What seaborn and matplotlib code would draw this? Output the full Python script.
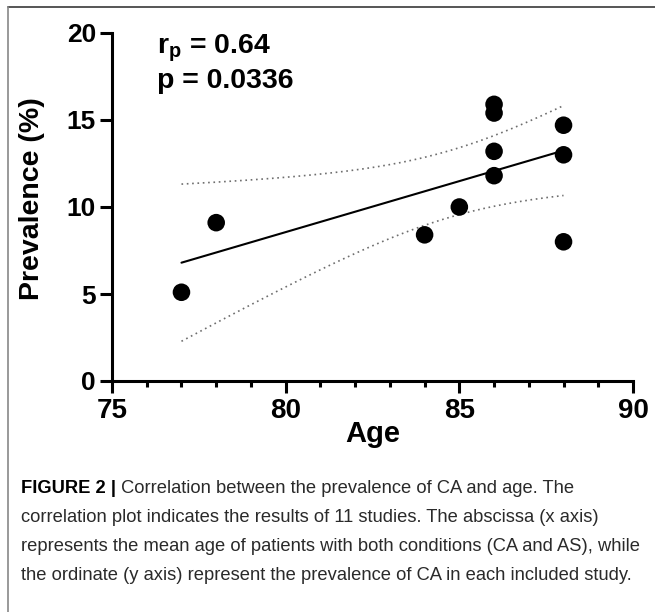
import numpy as np
import matplotlib
matplotlib.use("Agg")
import matplotlib.pyplot as plt
from matplotlib.ticker import MultipleLocator
from matplotlib.lines import Line2D
import seaborn as sns

# ---- data ----
age = [77, 78, 84, 85, 86, 86, 86, 86, 88, 88, 88]
prevalence = [5.1, 9.1, 8.4, 10.0, 15.9, 15.4, 13.2, 11.8, 14.7, 13.0, 8.0]
x_ticks = [75, 80, 85, 90]
y_ticks = [0, 5, 10, 15, 20]
stat_lines = [r"$\mathbf{r_p}$ = 0.64", "p = 0.0336"]
x_label = "Age"
y_label = "Prevalence (%)"
caption_bold = "FIGURE 2 |"
caption_lines = [
    " Correlation between the prevalence of CA and age. The",
    "correlation plot indicates the results of 11 studies. The abscissa (x axis)",
    "represents the mean age of patients with both conditions (CA and AS), while",
    "the ordinate (y axis) represent the prevalence of CA in each included study.",
]
T_975_DF9 = 2.262  # Student t quantile for 95% CI with n-2 = 9 df

sns.set_style("ticks")
plt.rcParams["font.family"] = ["Liberation Sans", "DejaVu Sans"]
plt.rcParams["mathtext.fontset"] = "custom"
plt.rcParams["mathtext.rm"] = "Liberation Sans:bold"
plt.rcParams["mathtext.bf"] = "Liberation Sans:bold"
plt.rcParams["text.color"] = "black"
plt.rcParams["axes.labelcolor"] = "black"
plt.rcParams["xtick.color"] = "black"
plt.rcParams["ytick.color"] = "black"
plt.rcParams["xtick.labelcolor"] = "black"
plt.rcParams["ytick.labelcolor"] = "black"

W, H = 655, 612
fig = plt.figure(figsize=(W / 100, H / 100), dpi=100)
fig.patch.set_facecolor("white")

left, right, top, bottom = 112, 633, 33, 381
ax = fig.add_axes([left / W, 1 - bottom / H, (right - left) / W, (bottom - top) / H])

sns.regplot(x=age, y=prevalence, ci=None, ax=ax, truncate=True,
            scatter_kws=dict(s=160, color="black", alpha=1, edgecolors="none",
                             zorder=4, clip_on=False),
            line_kws=dict(color="black", lw=1.5, zorder=3))

# analytic 95% confidence band of the fitted line
xa = np.asarray(age, float)
ya = np.asarray(prevalence, float)
n = len(xa)
slope, intercept = np.polyfit(xa, ya, 1)
resid = ya - (slope * xa + intercept)
s = np.sqrt(np.sum(resid ** 2) / (n - 2))
sxx = np.sum((xa - xa.mean()) ** 2)
xs = np.linspace(xa.min(), xa.max(), 200)
yfit = slope * xs + intercept
half = T_975_DF9 * s * np.sqrt(1 / n + (xs - xa.mean()) ** 2 / sxx)
for band in (yfit + half, yfit - half):
    ax.plot(xs, band, color="#6e6e6e", lw=1.2, linestyle=(0, (1, 2.2)), zorder=2)

ax.set_xlim(x_ticks[0], x_ticks[-1])
ax.set_ylim(y_ticks[0], y_ticks[-1])
ax.set_xticks(x_ticks)
ax.set_yticks(y_ticks)
ax.xaxis.set_minor_locator(MultipleLocator(1))
for sp in ("top", "right"):
    ax.spines[sp].set_visible(False)
for sp in ("left", "bottom"):
    ax.spines[sp].set_linewidth(2.2)
    ax.spines[sp].set_color("black")
ax.tick_params(axis="both", which="major", direction="out", length=8.5, width=2.2,
               color="black", labelcolor="black")
ax.tick_params(axis="x", which="minor", direction="out", length=4.5, width=2.2, color="black")
ax.tick_params(axis="x", which="major", pad=4)
ax.tick_params(axis="y", which="major", pad=3)
for lab in ax.get_xticklabels():
    lab.set_fontsize(20); lab.set_fontweight("bold")
for lab in ax.get_yticklabels():
    lab.set_fontsize(19); lab.set_fontweight("bold")
ax.set_xlabel("")
ax.set_ylabel("")

fig.text((left + right) / 2 / W, 1 - 434 / H, x_label, ha="center", va="center",
         fontsize=21, fontweight="bold", color="black")
fig.text(32 / W, 1 - 199 / H, y_label, ha="center", va="center", rotation=90,
         fontsize=20.5, fontweight="bold", color="black")

ax.text(76.3, 18.8, stat_lines[0], ha="left", va="baseline", fontsize=20.5,
        fontweight="bold", color="black")
ax.text(76.3, 16.85, stat_lines[1], ha="left", va="baseline", fontsize=20.5,
        fontweight="bold", color="black")

# frame lines (top and left)
fig.add_artist(Line2D([8 / W, 1], [1 - 7 / H, 1 - 7 / H], color="#555555", lw=1.4))
fig.add_artist(Line2D([8 / W, 8 / W], [1 - 7 / H, 0], color="#888888", lw=1.2))

# caption
cx = 21 / W
fs_cap = 13.2
base = [493, 522, 551, 580]
t0 = fig.text(cx, 1 - base[0] / H, caption_bold, ha="left", va="baseline",
              fontsize=fs_cap, fontweight="bold", color="black")
ax.annotate(caption_lines[0], xy=(1, 0), xycoords=t0, va="bottom", ha="left",
            fontsize=fs_cap, color="#2a2a2a", annotation_clip=False)
for i, line in enumerate(caption_lines[1:], start=1):
    fig.text(cx, 1 - base[i] / H, line, ha="left", va="baseline", fontsize=fs_cap,
             color="#2a2a2a")

fig.savefig("out.png", dpi=100, facecolor="white")
